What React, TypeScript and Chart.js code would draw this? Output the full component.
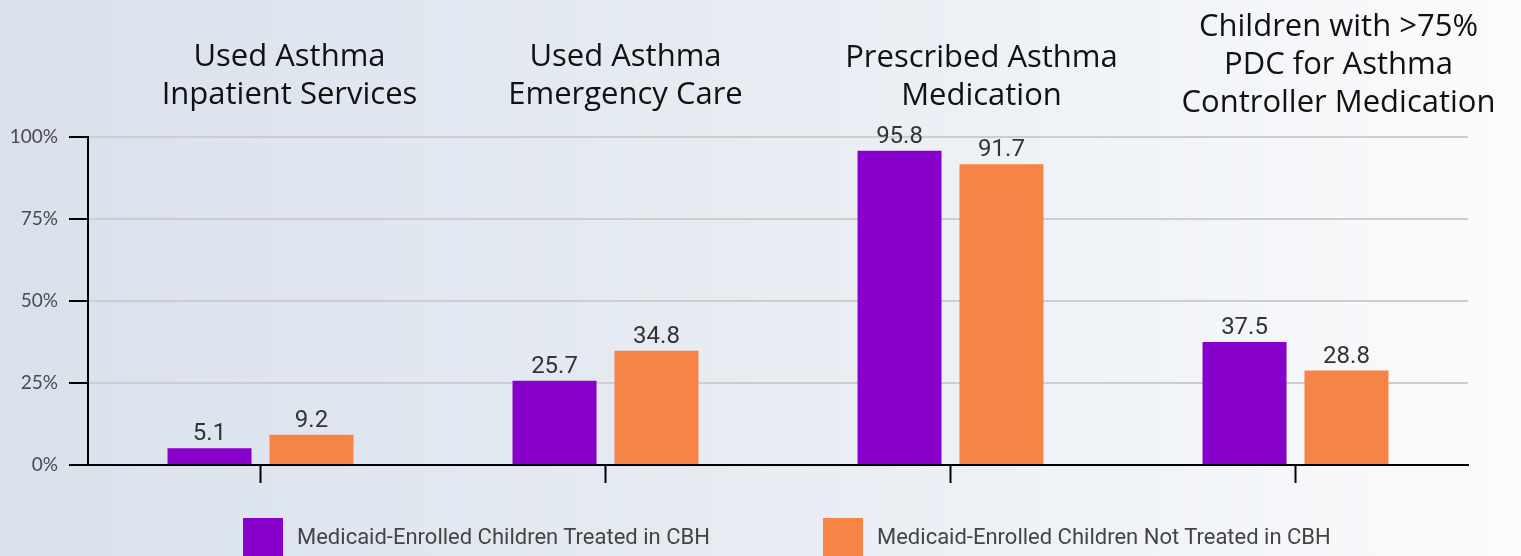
import React, { useEffect, useRef } from "react";
import { Chart, registerables } from "chart.js";

Chart.register(...registerables);

const categories: string[][] = [
  ["Used Asthma", "Inpatient Services"],
  ["Used Asthma", "Emergency Care"],
  ["Prescribed Asthma", "Medication"],
  ["Children with >75%", "PDC for Asthma", "Controller Medication"],
];
const seriesNames = [
  "Medicaid-Enrolled Children Treated in CBH",
  "Medicaid-Enrolled Children Not Treated in CBH",
];
const treated = [5.1, 25.7, 95.8, 37.5];
const notTreated = [9.2, 34.8, 91.7, 28.8];
const yTicks = [0, 25, 50, 75, 100];

const PURPLE = "#8800cc";
const ORANGE = "#f58446";

const titleDx = [29, 20, 31, 43];
const titleDy = [0, 0, 1, 8];

const titlePlugin = {
  id: "catTitles",
  afterDraw(chart: any) {
    const { ctx, chartArea } = chart;
    const xs = chart.scales.x;
    ctx.save();
    ctx.font = '31px "Open Sans"';
    ctx.fillStyle = "#111";
    ctx.textAlign = "center";
    ctx.textBaseline = "alphabetic";
    categories.forEach((lines, i) => {
      const cx = xs.getPixelForValue(i) + titleDx[i];
      const lastBase = chartArea.top - 33 + titleDy[i];
      lines.forEach((ln, j) => {
        const y = lastBase - (lines.length - 1 - j) * 38;
        ctx.fillText(ln, cx, y);
      });
    });
    ctx.restore();
  },
};

const valuePlugin = {
  id: "valueLabels",
  afterDatasetsDraw(chart: any) {
    const { ctx } = chart;
    ctx.save();
    ctx.font = '24px Roboto';
    ctx.fillStyle = "#333";
    ctx.textAlign = "center";
    ctx.textBaseline = "alphabetic";
    chart.data.datasets.forEach((ds: any, di: number) => {
      const meta = chart.getDatasetMeta(di);
      meta.data.forEach((el: any, i: number) => {
        ctx.fillText(String(ds.data[i]), el.x, el.y - 8);
      });
    });
    ctx.restore();
  },
};

export default function App() {
  const ref = useRef<HTMLCanvasElement | null>(null);
  useEffect(() => {
    document.body.style.margin = "0";
    if (!ref.current) return;
    const chart = new Chart(ref.current, {
      type: "bar",
      data: {
        labels: categories.map((c) => c.join(" ")),
        datasets: [
          {
            label: seriesNames[0],
            data: treated,
            backgroundColor: PURPLE,
            categoryPercentage: 0.591,
            barPercentage: 0.824,
          },
          {
            label: seriesNames[1],
            data: notTreated,
            backgroundColor: ORANGE,
            categoryPercentage: 0.591,
            barPercentage: 0.824,
          },
        ],
      },
      options: {
        animation: false,
        responsive: false,
        maintainAspectRatio: false,
        layout: { padding: { top: 137, right: 53, bottom: 73, left: 0 } },
        plugins: { legend: { display: false }, tooltip: { enabled: false } },
        scales: {
          x: {
            grid: {
              offset: false,
              drawOnChartArea: false,
              drawTicks: true,
              tickLength: 18,
              tickColor: "#000",
              tickWidth: 2,
            },
            border: { color: "#000", width: 2 },
            ticks: { display: false },
          },
          y: {
            min: 0,
            max: 100,
            afterFit: (s: any) => {
              s.width = 88;
            },
            afterBuildTicks: (s: any) => {
              s.ticks = yTicks.map((v) => ({ value: v }));
            },
            grid: {
              color: "#cdcdcd",
              lineWidth: 2,
              tickLength: 19,
              tickColor: "#000",
              tickWidth: 2,
              drawTicks: true,
            },
            border: { color: "#000", width: 2 },
            ticks: {
              padding: 11,
              color: "#4a4a4a",
              font: { family: "Lato", size: 19 },
              callback: (v: any) => v + "%",
            },
          },
        },
      },
      plugins: [titlePlugin, valuePlugin],
    });
    return () => chart.destroy();
  }, []);

  const legendItem = (color: string, text: string) => (
    <div style={{ display: "flex", alignItems: "flex-start" }}>
      <div style={{ width: 40, height: 38, background: color }} />
      <span
        style={{
          marginLeft: 14,
          marginTop: 6,
          fontFamily: "Roboto",
          fontSize: 22,
          color: "#444",
          whiteSpace: "nowrap",
        }}
      >
        {text}
      </span>
    </div>
  );

  return (
    <div
      style={{
        position: "relative",
        width: 1521,
        height: 556,
        overflow: "hidden",
        background: "linear-gradient(to right, #d9e1ec 0%, #e6ebf2 45%, #fafbfc 100%)",
      }}
    >
      <canvas ref={ref} width={1521} height={556} style={{ display: "block" }} />
      <div style={{ position: "absolute", left: 243, top: 518 }}>
        {legendItem(PURPLE, seriesNames[0])}
      </div>
      <div style={{ position: "absolute", left: 823, top: 518 }}>
        {legendItem(ORANGE, seriesNames[1])}
      </div>
    </div>
  );
}
